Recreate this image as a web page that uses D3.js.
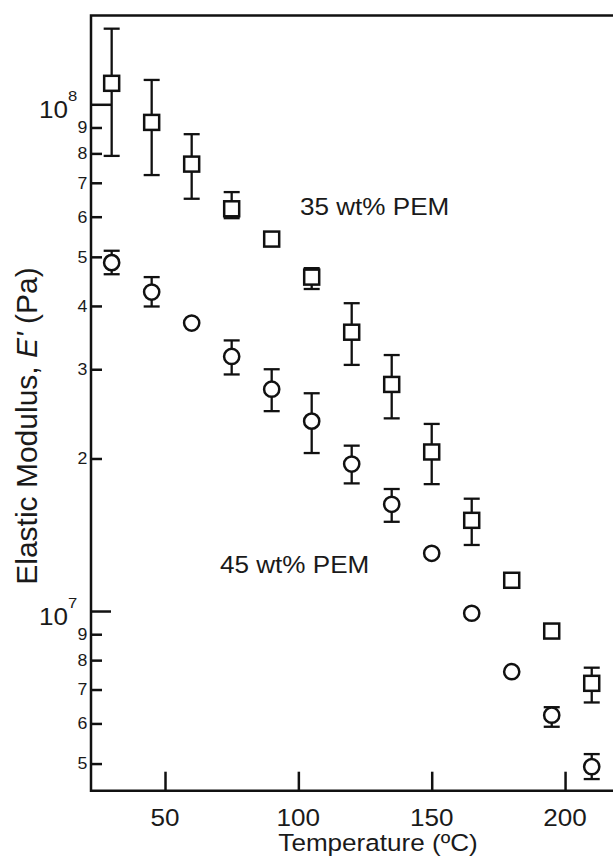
<!DOCTYPE html>
<html>
<head>
<meta charset="utf-8">
<script src="https://cdn.jsdelivr.net/npm/d3@7"></script>
<style>
  html, body { margin: 0; padding: 0; background: #fff; }
  svg { display: block; font-family: "Liberation Sans", Arial, Helvetica, sans-serif; }
</style>
</head>
<body>
<svg id="chart" width="613" height="859"></svg>
<script>
// Temperature (°C) at which each sample was measured
const temperature = [30, 45, 60, 75, 90, 105, 120, 135, 150, 165, 180, 195, 210];

// 35 wt% PEM: storage modulus E' (Pa) with error-bar limits (null = no bar)
const pem35 = [1.10e8, 9.21e7, 7.62e7, 6.22e7, 5.42e7, 4.56e7, 3.55e7, 2.80e7, 2.06e7, 1.51e7, 1.15e7, 9.13e6, 7.20e6];
const pem35Upper = [1.41e8, 1.117e8, 8.73e7, 6.71e7, null, 4.75e7, 4.05e7, 3.20e7, 2.34e7, 1.666e7, null, null, 7.73e6];
const pem35Lower = [7.91e7, 7.25e7, 6.51e7, 5.96e7, null, 4.32e7, 3.06e7, 2.40e7, 1.78e7, 1.35e7, null, null, 6.60e6];

// 45 wt% PEM
const pem45 = [4.87e7, 4.26e7, 3.70e7, 3.18e7, 2.74e7, 2.37e7, 1.95e7, 1.624e7, 1.30e7, 9.90e6, 7.59e6, 6.23e6, 4.93e6];
const pem45Upper = [5.14e7, 4.56e7, null, 3.42e7, 3.00e7, 2.69e7, 2.12e7, 1.741e7, null, null, null, 6.46e6, 5.22e6];
const pem45Lower = [4.62e7, 3.99e7, null, 2.93e7, 2.48e7, 2.05e7, 1.786e7, 1.50e7, null, null, null, 5.91e6, 4.66e6];

// Axis ticks
const xTicks = [50, 100, 150, 200];
const yMajorTicks = [1e7, 1e8];
const yMajorLabels = ["7", "8"];           // exponents of 10
const yMinorTicks = [5e6, 6e6, 7e6, 8e6, 9e6, 2e7, 3e7, 4e7, 5e7, 6e7, 7e7, 8e7, 9e7];
const yMinorLabels = ["5", "6", "7", "8", "9", "2", "3", "4", "5", "6", "7", "8", "9"];

const svg = d3.select("#chart");
const plotLeft = 91, plotTop = 15.5, plotBottom = 790.7, plotRight = 618.4;

const x = d3.scaleLinear().domain([22.25, 220]).range([plotLeft, plotRight]);
const y = d3.scaleLog().domain([4.42e6, 1.497e8]).range([plotBottom, plotTop]);

const ink = "#111";
const textInk = "#1a1a1a";
const lw = 2.5;
const wide = 1.11;   // horizontal widening of the lettering

// Place a slightly widened text at (tx, ty)
function label(parent, tx, ty, size, anchor) {
  return parent.append("text")
    .attr("transform", `translate(${tx},${ty}) scale(${wide},1)`)
    .attr("text-anchor", anchor || "start")
    .attr("font-size", size).attr("fill", textInk);
}

// Frame (top and left/bottom axes)
svg.append("path")
  .attr("d", `M${plotRight + 10},${plotTop}H${plotLeft}V${plotBottom}H${plotRight + 10}`)
  .attr("fill", "none").attr("stroke", ink).attr("stroke-width", lw);

// X ticks point inward from the bottom axis
const xAxis = d3.axisTop(x).tickValues(xTicks).tickSize(19).tickFormat("");
svg.append("g").attr("transform", `translate(0,${plotBottom})`).call(xAxis)
  .call(g => g.select(".domain").remove())
  .call(g => g.selectAll("line").attr("stroke", ink).attr("stroke-width", lw));

const xLab = svg.append("g");
xTicks.forEach(t => label(xLab, x(t), 826, 23.5, "middle").text(t));

// Y ticks: major decades and minor mantissas, pointing into the plot
const yMajor = d3.axisRight(y).tickValues(yMajorTicks).tickSize(20).tickFormat("");
svg.append("g").attr("transform", `translate(${plotLeft},0)`).call(yMajor)
  .call(g => g.select(".domain").remove())
  .call(g => g.selectAll("line").attr("stroke", ink).attr("stroke-width", lw));

const yMinor = d3.axisRight(y).tickValues(yMinorTicks).tickSize(11).tickFormat("");
svg.append("g").attr("transform", `translate(${plotLeft},0)`).call(yMinor)
  .call(g => g.select(".domain").remove())
  .call(g => g.selectAll("line").attr("stroke", ink).attr("stroke-width", lw));

// Decade labels 10^n
const yLab = svg.append("g");
yMajorTicks.forEach((t, i) => {
  const tx = label(yLab, 39, y(t) + 14, 23.5);
  tx.append("tspan").text("10");
  tx.append("tspan").attr("dy", -17).attr("font-size", 15).text(yMajorLabels[i]);
});

// Mantissa labels
yMinorTicks.forEach((t, i) => {
  label(yLab, 87.5, y(t) + 5.8, 16, "end").text(yMinorLabels[i]);
});

// Axis titles
label(svg, 378, 851, 23.5, "middle").text("Temperature (ºC)");

const yt = svg.append("text")
  .attr("transform", `translate(37,426) rotate(-90)`)
  .attr("text-anchor", "middle").attr("font-size", 30).attr("fill", textInk);
yt.append("tspan").text("Elastic Modulus, ");
yt.append("tspan").attr("font-style", "italic").text("E'");
yt.append("tspan").text(" (Pa)");

// Error bars then markers for each series
const capW = 16;
function drawSeries(vals, up, lo, shape) {
  const g = svg.append("g");
  const idx = d3.range(vals.length).filter(i => up[i] != null);
  const eb = g.selectAll("g.eb").data(idx).join("g").attr("class", "eb")
    .attr("stroke", ink).attr("stroke-width", 2.3).attr("fill", "none");
  eb.append("line")
    .attr("x1", i => x(temperature[i])).attr("x2", i => x(temperature[i]))
    .attr("y1", i => y(up[i])).attr("y2", i => y(lo[i]));
  eb.append("line")
    .attr("x1", i => x(temperature[i]) - capW / 2).attr("x2", i => x(temperature[i]) + capW / 2)
    .attr("y1", i => y(up[i])).attr("y2", i => y(up[i]));
  eb.append("line")
    .attr("x1", i => x(temperature[i]) - capW / 2).attr("x2", i => x(temperature[i]) + capW / 2)
    .attr("y1", i => y(lo[i])).attr("y2", i => y(lo[i]));

  if (shape === "square") {
    g.selectAll("rect").data(vals).join("rect")
      .attr("x", (d, i) => x(temperature[i]) - 7.5).attr("y", d => y(d) - 7.5)
      .attr("width", 15).attr("height", 15)
      .attr("fill", "#fff").attr("stroke", ink).attr("stroke-width", 2.5);
  } else {
    g.selectAll("circle").data(vals).join("circle")
      .attr("cx", (d, i) => x(temperature[i])).attr("cy", d => y(d)).attr("r", 7.6)
      .attr("fill", "#fff").attr("stroke", ink).attr("stroke-width", 2.5);
  }
}
drawSeries(pem35, pem35Upper, pem35Lower, "square");
drawSeries(pem45, pem45Upper, pem45Lower, "circle");

// Series annotations
label(svg, 300, 215, 23.5).text("35 wt% PEM");
label(svg, 220, 573, 23.5).text("45 wt% PEM");
</script>
</body>
</html>
